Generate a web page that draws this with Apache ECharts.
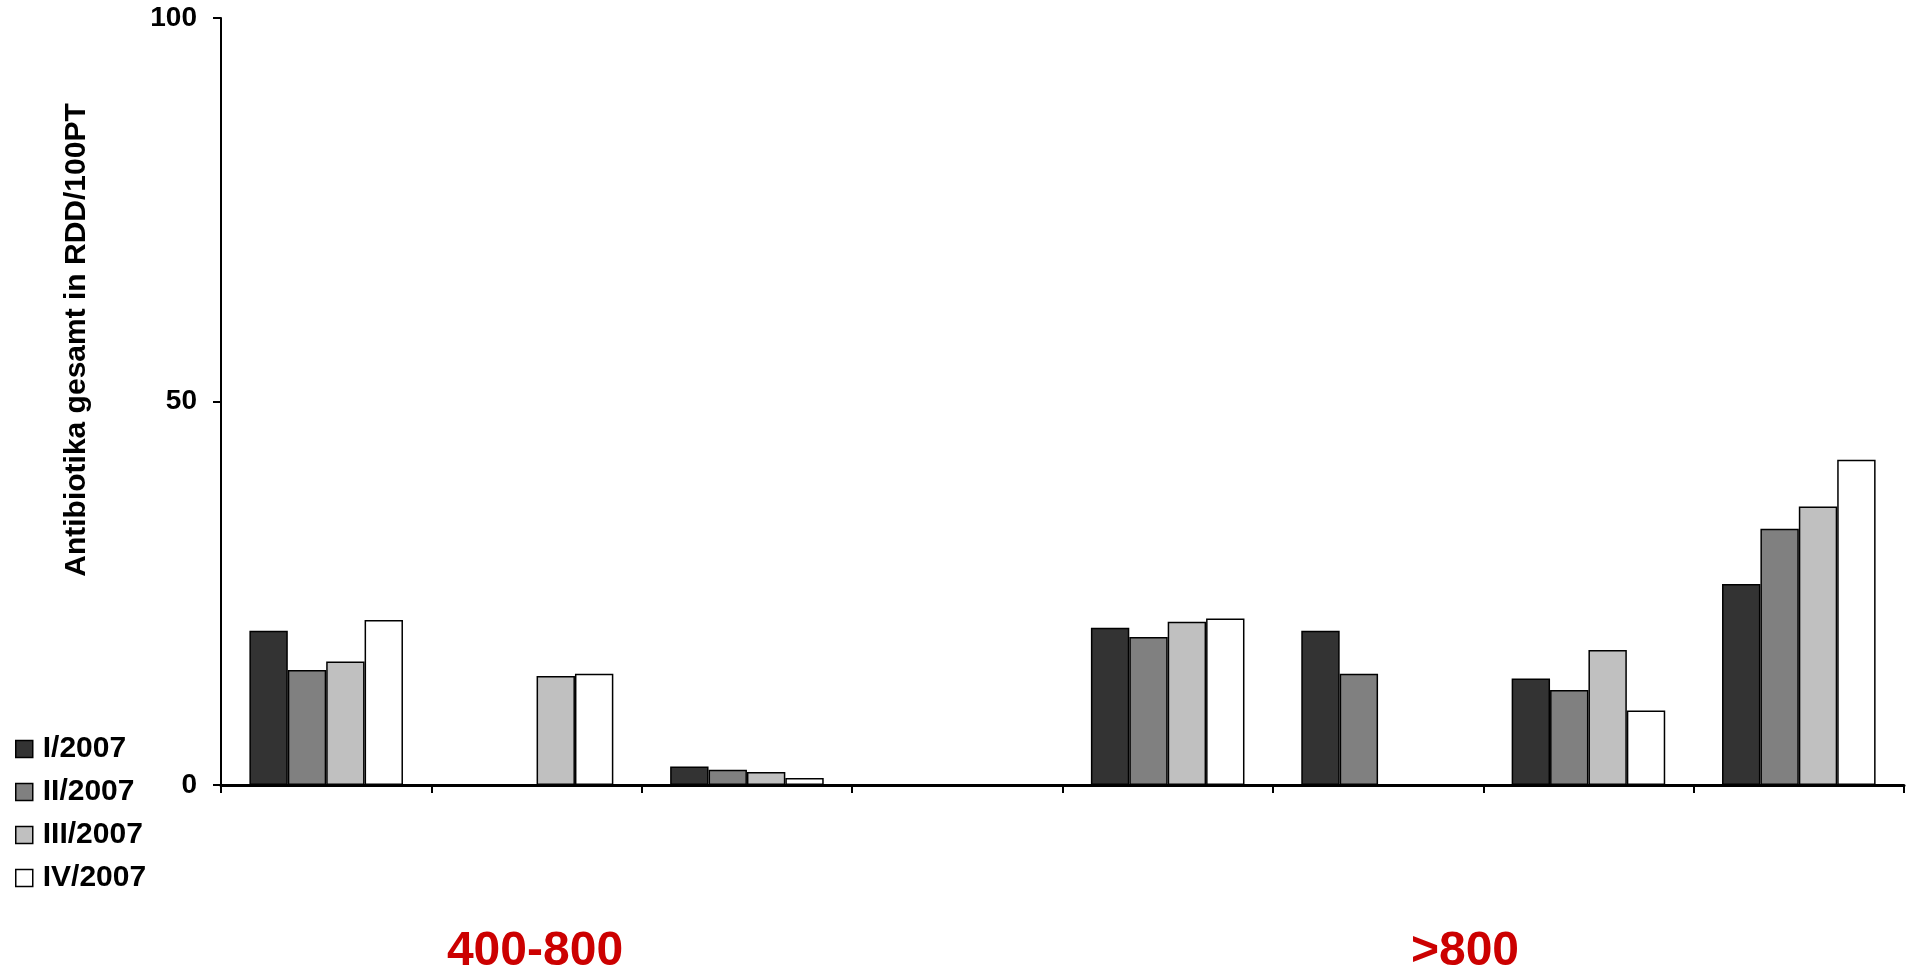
<!DOCTYPE html>
<html>
<head>
<meta charset="utf-8">
<script src="https://cdn.jsdelivr.net/npm/echarts@6/dist/echarts.min.js"></script>
<style>
html,body{margin:0;padding:0;background:#fff;}
#c{width:1914px;height:978px;}
</style>
</head>
<body>
<div id="c"></div>
<script>
// Data
var categories = ['1', '2', '3', '4', '5', '6', '7', '8'];
var seriesNames = ['I/2007', 'II/2007', 'III/2007', 'IV/2007'];
var q1 = [20.1, 0, 2.4, 0, 20.5, 20.1, 13.9, 26.2];
var q2 = [15.0, 0, 2.0, 0, 19.3, 14.5, 12.4, 33.4];
var q3 = [16.1, 14.2, 1.7, 0, 21.3, 0, 17.6, 36.3];
var q4 = [21.5, 14.5, 0.9, 0, 21.7, 0, 9.7, 42.4];
var yTicks = [0, 50, 100];
var groupLabels = ['400-800', '>800'];
var yName = 'Antibiotika gesamt in RDD/100PT';

var colors = ['#333333', '#808080', '#C0C0C0', '#FFFFFF'];
var values = [q1, q2, q3, q4];
var FONT = '"Liberation Sans", Arial, sans-serif';

var chart = echarts.init(document.getElementById('c'));
var series = seriesNames.map(function (n, i) {
  return {
    name: n,
    type: 'bar',
    data: values[i],
    barGap: '0%',
    barCategoryGap: '27%',
    itemStyle: { color: colors[i], borderColor: '#000', borderWidth: 1.5 },
    emphasis: { disabled: true },
    animation: false
  };
});

chart.setOption({
  animation: false,
  backgroundColor: '#fff',
  grid: { left: 221, right: 10, top: 18, bottom: 193, containLabel: false },
  legend: {
    orient: 'vertical',
    left: 10,
    top: 729,
    icon: 'rect',
    itemWidth: 17,
    itemHeight: 17,
    itemGap: 13,
    data: seriesNames,
    textStyle: { fontFamily: FONT, fontWeight: 'bold', fontSize: 30, lineHeight: 30, color: '#000', padding: [0, 0, 0, 5] },
    itemStyle: { borderColor: '#000', borderWidth: 1.5 }
  },
  xAxis: {
    type: 'category',
    data: categories,
    axisLine: { lineStyle: { color: '#000', width: 3 } },
    axisTick: { show: true, length: 8, lineStyle: { color: '#000', width: 2 } },
    axisLabel: { show: false },
    splitLine: { show: false }
  },
  yAxis: {
    type: 'value',
    min: yTicks[0],
    max: yTicks[yTicks.length - 1],
    interval: yTicks[1] - yTicks[0],
    axisLine: { show: true, lineStyle: { color: '#000', width: 2 } },
    axisTick: { show: true, length: 8, lineStyle: { color: '#000', width: 2 } },
    axisLabel: { fontFamily: FONT, fontWeight: 'bold', fontSize: 28, color: '#000', margin: 24 },
    splitLine: { show: false }
  },
  graphic: [
    {
      type: 'text', x: 77, y: 340, rotation: Math.PI / 2,
      style: { text: yName, fontFamily: FONT, fontWeight: 'bold', fontSize: 30, fill: '#000', align: 'center', verticalAlign: 'middle' }
    },
    {
      type: 'text', x: 535, y: 952,
      style: { text: groupLabels[0], fontFamily: FONT, fontWeight: 'bold', fontSize: 48, fill: '#CC0000', align: 'center', verticalAlign: 'middle' }
    },
    {
      type: 'text', x: 1465, y: 952,
      style: { text: groupLabels[1], fontFamily: FONT, fontWeight: 'bold', fontSize: 48, fill: '#CC0000', align: 'center', verticalAlign: 'middle' }
    }
  ],
  series: series
});
</script>
</body>
</html>
